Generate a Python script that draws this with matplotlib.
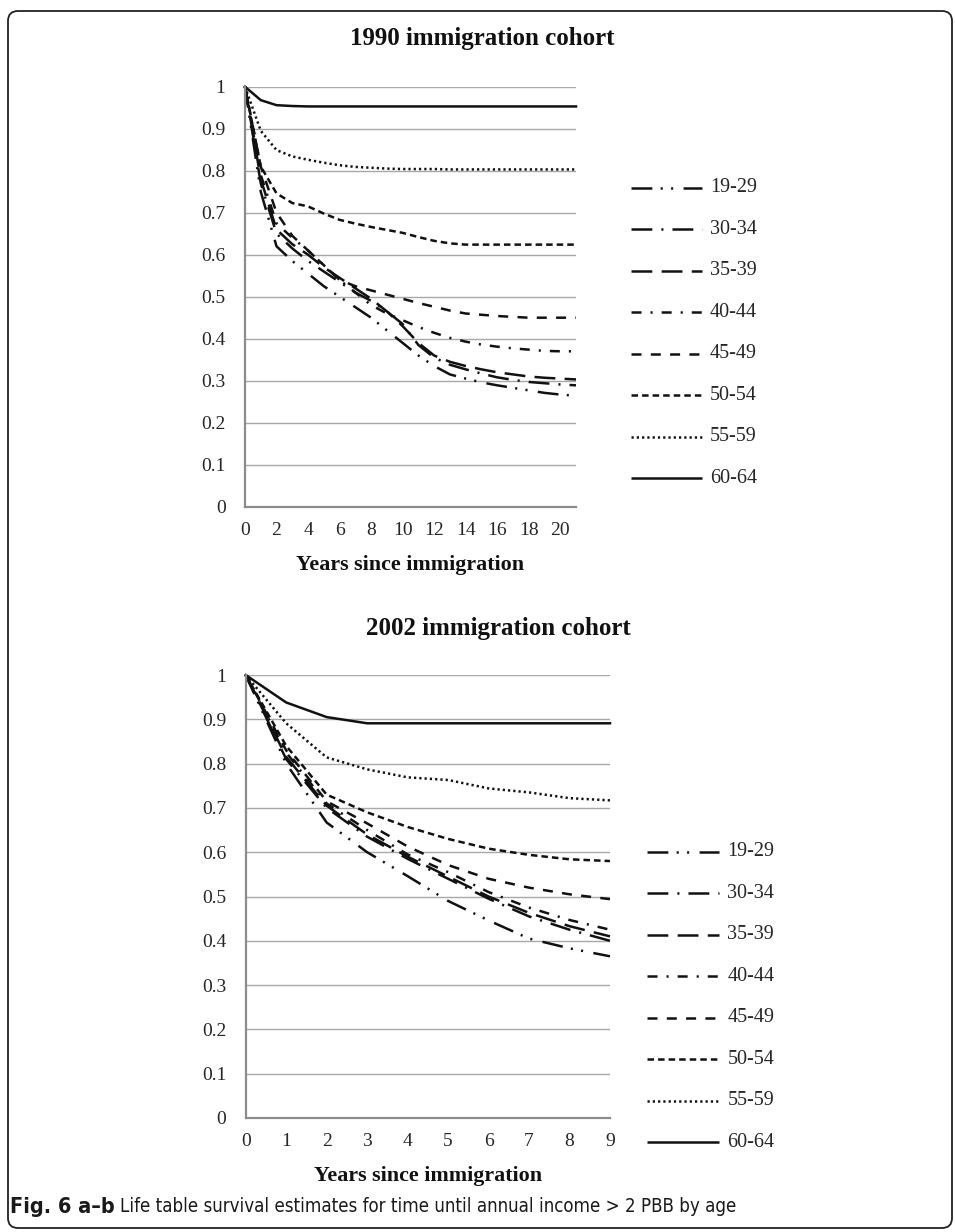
import matplotlib
matplotlib.use('Agg')
import matplotlib.pyplot as plt
from matplotlib import font_manager
from matplotlib.font_manager import FontProperties
from matplotlib.lines import Line2D
from matplotlib.patches import FancyBboxPatch

# ---------------- data ----------------
age_groups = ['19-29', '30-34', '35-39', '40-44', '45-49', '50-54', '55-59', '60-64']

years_1990 = list(range(0, 22))
x_ticks_1990 = list(range(0, 21, 2))
years_2002 = list(range(0, 10))
x_ticks_2002 = list(range(0, 10))
y_ticks = [0, 0.1, 0.2, 0.3, 0.4, 0.5, 0.6, 0.7, 0.8, 0.9, 1.0]
y_tick_labels = ['0', '0.1', '0.2', '0.3', '0.4', '0.5', '0.6', '0.7', '0.8', '0.9', '1']

c1990_19_29 = [1.000, 0.750, 0.620, 0.585, 0.555, 0.525, 0.500, 0.475, 0.450, 0.420, 0.390,
               0.360, 0.335, 0.315, 0.305, 0.296, 0.289, 0.283, 0.277, 0.271, 0.267, 0.264]
c1990_30_34 = [1.000, 0.770, 0.650, 0.615, 0.585, 0.560, 0.535, 0.510, 0.490, 0.465, 0.435,
               0.385, 0.355, 0.338, 0.327, 0.317, 0.308, 0.302, 0.297, 0.294, 0.291, 0.289]
c1990_35_39 = [1.000, 0.780, 0.660, 0.625, 0.600, 0.570, 0.545, 0.520, 0.495, 0.465, 0.430,
               0.390, 0.360, 0.345, 0.335, 0.327, 0.320, 0.315, 0.310, 0.307, 0.305, 0.303]
c1990_40_44 = [1.000, 0.790, 0.675, 0.640, 0.610, 0.575, 0.540, 0.510, 0.480, 0.460, 0.444,
               0.428, 0.414, 0.402, 0.393, 0.386, 0.381, 0.377, 0.374, 0.371, 0.370, 0.370]
c1990_45_49 = [1.000, 0.810, 0.700, 0.645, 0.610, 0.575, 0.540, 0.525, 0.515, 0.505, 0.495,
               0.485, 0.476, 0.467, 0.460, 0.457, 0.454, 0.452, 0.450, 0.450, 0.450, 0.450]
c1990_50_54 = [1.000, 0.810, 0.746, 0.723, 0.715, 0.698, 0.683, 0.674, 0.666, 0.659, 0.652,
               0.642, 0.633, 0.627, 0.624, 0.624, 0.624, 0.624, 0.624, 0.624, 0.624, 0.624]
c1990_55_59 = [1.000, 0.895, 0.849, 0.834, 0.826, 0.819, 0.813, 0.809, 0.807, 0.805, 0.804,
               0.804, 0.804, 0.803, 0.803, 0.803, 0.803, 0.803, 0.803, 0.803, 0.803, 0.803]
c1990_60_64 = [1.000, 0.968, 0.956, 0.954, 0.953, 0.953, 0.953, 0.953, 0.953, 0.953, 0.953,
               0.953, 0.953, 0.953, 0.953, 0.953, 0.953, 0.953, 0.953, 0.953, 0.953, 0.953]

c2002_19_29 = [1.000, 0.800, 0.667, 0.600, 0.546, 0.490, 0.446, 0.405, 0.383, 0.365]
c2002_30_34 = [1.000, 0.810, 0.700, 0.635, 0.585, 0.540, 0.495, 0.455, 0.425, 0.400]
c2002_35_39 = [1.000, 0.815, 0.705, 0.640, 0.590, 0.545, 0.500, 0.463, 0.433, 0.410]
c2002_40_44 = [1.000, 0.825, 0.710, 0.650, 0.595, 0.555, 0.510, 0.475, 0.447, 0.425]
c2002_45_49 = [1.000, 0.830, 0.715, 0.665, 0.613, 0.571, 0.540, 0.520, 0.505, 0.494]
c2002_50_54 = [1.000, 0.840, 0.730, 0.690, 0.657, 0.630, 0.608, 0.594, 0.584, 0.580]
c2002_55_59 = [1.000, 0.891, 0.814, 0.787, 0.769, 0.763, 0.744, 0.735, 0.722, 0.717]
c2002_60_64 = [1.000, 0.938, 0.905, 0.891, 0.891, 0.891, 0.891, 0.891, 0.891, 0.891]

series_1990 = [c1990_19_29, c1990_30_34, c1990_35_39, c1990_40_44,
               c1990_45_49, c1990_50_54, c1990_55_59, c1990_60_64]
series_2002 = [c2002_19_29, c2002_30_34, c2002_35_39, c2002_40_44,
               c2002_45_49, c2002_50_54, c2002_55_59, c2002_60_64]

caption_bold = 'Fig. 6 a\u2013b'
caption_text = 'Life table survival estimates for time until annual income > 2 PBB by age'

# ---------------- styles ----------------
plt.rcParams['lines.scale_dashes'] = False
W, H = 955, 1232
LINE_C = '#111111'
TEXT_C = '#262626'
GRID_C = '#a8a8a8'
AXIS_C = '#8c8c8c'
SERIF = ['Liberation Serif', 'DejaVu Serif']


def _wnum(w):
    if isinstance(w, (int, float)):
        return float(w)
    return float(font_manager.weight_dict.get(str(w), 400))


def pick_condensed(target):
    best, best_d = None, None
    for f in font_manager.fontManager.ttflist:
        n = f.name
        if 'Serif' in n or 'Mono' in n or f.style != 'normal':
            continue
        cond = ('Condensed' in n or 'Narrow' in n or
                str(f.stretch) in ('condensed', 'semi-condensed', 'extra-condensed') or
                (isinstance(f.stretch, (int, float)) and f.stretch < 500))
        if not cond:
            continue
        d = abs(_wnum(f.weight) - target)
        if best is None or d < best_d:
            best, best_d = f, d
    return best, best_d


fb, db = pick_condensed(700)
fr, dr = pick_condensed(400)
if fb is not None and db <= 100:
    cap_bold_fp = FontProperties(fname=fb.fname, size=15.5)
else:
    cap_bold_fp = FontProperties(family='Open Sans', weight='bold', size=13)
if fr is not None and dr <= 150:
    cap_reg_fp = FontProperties(fname=fr.fname, size=15.5)
else:
    cap_reg_fp = FontProperties(family='Open Sans', weight='light', size=12.5)

dash_styles = [
    (0, (15.0, 6.0, 1.5, 6.0, 1.5, 7.5)),   # 19-29 long dash dot dot
    (0, (15.0, 6.5, 1.5, 6.5)),             # 30-34 long dash dot
    (0, (15.0, 6.7)),                        # 35-39 long dash
    (0, (7.2, 6.5, 1.5, 6.5)),               # 40-44 dash dot
    (0, (7.2, 6.7)),                         # 45-49 dash
    (0, (4.7, 2.9)),                         # 50-54 short dash
    (0, (1.6, 2.2)),                         # 55-59 dots
    '-',                                     # 60-64 solid
]
LW = 1.8

fig = plt.figure(figsize=(W / 100, H / 100), dpi=100)
fig.patch.set_facecolor('white')


def setup_axes(ax, xmax, xticks):
    ax.set_xlim(0, xmax)
    ax.set_ylim(0, 1)
    ax.set_yticks(y_ticks)
    ax.set_yticklabels(y_tick_labels)
    ax.set_xticks(xticks)
    ax.set_xticklabels([str(t) for t in xticks])
    for sp in ['top', 'right']:
        ax.spines[sp].set_visible(False)
    for sp in ['left', 'bottom']:
        ax.spines[sp].set_color(AXIS_C)
        ax.spines[sp].set_linewidth(1.6)
    ax.grid(axis='y', color=GRID_C, linewidth=1.0)
    ax.set_axisbelow(True)
    ax.tick_params(axis='both', length=0, labelcolor=TEXT_C, labelsize=14)
    ax.tick_params(axis='y', pad=14)
    ax.tick_params(axis='x', pad=11)
    for lab in ax.get_xticklabels() + ax.get_yticklabels():
        lab.set_fontfamily(SERIF)


def draw_legend(x0, x1, xt, y0, step):
    for i, (lab, ls) in enumerate(zip(age_groups, dash_styles)):
        y = 1 - (y0 + i * step) / H
        fig.add_artist(Line2D([x0 / W, x1 / W], [y, y], transform=fig.transFigure,
                              color=LINE_C, linewidth=LW, linestyle=ls,
                              dash_capstyle='butt', solid_capstyle='butt'))
        fig.text(xt / W, y, lab, ha='left', va='center', fontsize=14.5,
                 color=TEXT_C, family=SERIF)


# ---------------- 1990 chart ----------------
ax1 = fig.add_axes([245 / W, 1 - 506.7 / H, 331 / W, 420 / H])
setup_axes(ax1, 21, x_ticks_1990)
for vals, ls in zip(series_1990, dash_styles):
    ax1.plot(years_1990, vals, color=LINE_C, linewidth=LW, linestyle=ls,
             dash_capstyle='butt', solid_joinstyle='round', clip_on=False)
fig.text(482 / W, 1 - 39 / H, '1990 immigration cohort', ha='center', va='center',
         fontsize=18, fontweight='bold', color='#111111', family=SERIF)
fig.text(410.5 / W, 1 - 565 / H, 'Years since immigration', ha='center', va='center',
         fontsize=15.8, fontweight='bold', color='#111111', family=SERIF)
draw_legend(630.7, 701.7, 710, 188, 41.45)

# ---------------- 2002 chart ----------------
ax2 = fig.add_axes([245.7 / W, 1 - 1118 / H, 364.3 / W, 443 / H])
setup_axes(ax2, 9, x_ticks_2002)
for vals, ls in zip(series_2002, dash_styles):
    ax2.plot(years_2002, vals, color=LINE_C, linewidth=LW, linestyle=ls,
             dash_capstyle='butt', solid_joinstyle='round', clip_on=False)
fig.text(498 / W, 1 - 629 / H, '2002 immigration cohort', ha='center', va='center',
         fontsize=18, fontweight='bold', color='#111111', family=SERIF)
fig.text(428 / W, 1 - 1176 / H, 'Years since immigration', ha='center', va='center',
         fontsize=15.8, fontweight='bold', color='#111111', family=SERIF)
draw_legend(647.3, 719.3, 727.3, 851.7, 41.5)

# ---------------- caption & frame ----------------
cap_y = 1 - 1207 / H
t_bold = fig.text(10 / W, cap_y, caption_bold, ha='left', va='center',
                  fontproperties=cap_bold_fp, color='#1a1a1a')
fig.canvas.draw()
renderer = fig.canvas.get_renderer()
bb = t_bold.get_window_extent(renderer=renderer)
t_reg = fig.text((bb.x1 + 5) / W, cap_y, caption_text, ha='left', va='center',
                 fontproperties=cap_reg_fp, color='#1a1a1a')
# scale regular caption part so the whole caption spans like the reference (~735 px)
bb2 = t_reg.get_window_extent(renderer=renderer)
target_right = 735.0
if bb2.x1 > 0:
    scale = (target_right - bb2.x0) / (bb2.x1 - bb2.x0)
    scale = max(0.8, min(1.25, scale))
    t_reg.set_fontsize(cap_reg_fp.get_size_in_points() * scale)

frame = FancyBboxPatch((8, 4), 944, 1217, boxstyle='round,pad=0,rounding_size=10',
                       transform=None, facecolor='none', edgecolor='#222222', linewidth=1.3)
fig.add_artist(frame)

fig.savefig('out.png', dpi=100, facecolor='white')
